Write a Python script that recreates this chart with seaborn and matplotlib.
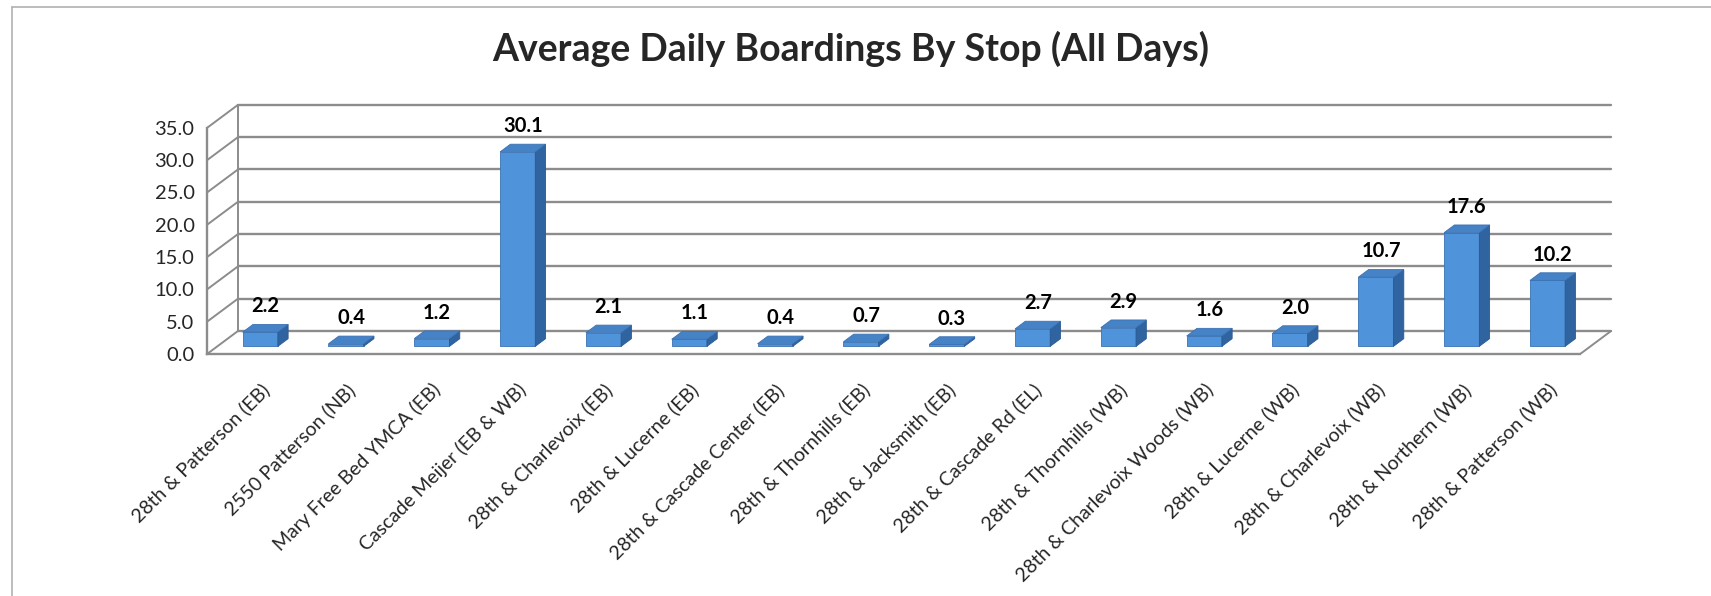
import matplotlib
matplotlib.use("Agg")
import matplotlib.pyplot as plt
import matplotlib.transforms as mtransforms
import seaborn as sns
from matplotlib.patches import Polygon
from matplotlib.lines import Line2D

# data
stops = ["28th & Patterson (EB)", "2550 Patterson (NB)", "Mary Free Bed YMCA (EB)",
         "Cascade Meijer (EB & WB)", "28th & Charlevoix (EB)", "28th & Lucerne (EB)",
         "28th & Cascade Center (EB)", "28th & Thornhills (EB)", "28th & Jacksmith (EB)",
         "28th & Cascade Rd (EL)", "28th & Thornhills (WB)", "28th & Charlevoix Woods (WB)",
         "28th & Lucerne (WB)", "28th & Charlevoix (WB)", "28th & Northern (WB)",
         "28th & Patterson (WB)"]
boardings = [2.2, 0.4, 1.2, 30.1, 2.1, 1.1, 0.4, 0.7, 0.3, 2.7, 2.9, 1.6, 2.0, 10.7, 17.6, 10.2]
y_ticks = [0, 5, 10, 15, 20, 25, 30, 35]

sns.set_style("white")
plt.rcParams['font.family'] = ['Lato', 'DejaVu Sans']

# fake 3D depth of the plot box, in data units
ddx, ddy = 0.36, 3.56
grid_col = "#8c8c8c"
front_col = "#4f93da"
side_col = "#2f64a0"
top_col = "#4682c6"

fig = plt.figure(figsize=(17.11, 5.96), dpi=100)
ax = fig.add_axes([0.121, 0.406, 0.8276, 0.4228])

sns.barplot(x=stops, y=boardings, color=front_col, saturation=1, width=0.41, ax=ax)

ax.set_xlim(-0.5, 16)
ax.set_ylim(0, 39)
n = len(stops)

# back wall gridlines and diagonals from the front axis
for k in y_ticks:
    ax.plot([-0.5 + ddx, n - 0.5 + ddx], [k + ddy, k + ddy], color=grid_col, lw=1.7, zorder=1)
    ax.plot([-0.5, -0.5 + ddx], [k, k + ddy], color=grid_col, lw=1.4, zorder=1)
ax.plot([-0.5 + ddx, -0.5 + ddx], [ddy, y_ticks[-1] + ddy], color=grid_col, lw=1.4, zorder=1)
ax.plot([n - 0.5, n - 0.5 + ddx], [0, ddy], color=grid_col, lw=1.4, zorder=1)

# move the bars into the middle of the depth and add side/top faces
bx, by = ddx / 3, ddy / 3
for p, v in zip(ax.patches, boardings):
    p.set_x(p.get_x() + bx)
    p.set_y(by)
    p.set_edgecolor("#3b72b4")
    p.set_linewidth(0.6)
    p.set_zorder(3)
    xl, xr = p.get_x(), p.get_x() + p.get_width()
    top = by + v
    ax.add_patch(Polygon([(xr, by), (xr + bx, by + by), (xr + bx, top + by), (xr, top)],
                         closed=True, facecolor=side_col, edgecolor="#2b5a92", lw=0.6, zorder=3))
    ax.add_patch(Polygon([(xl, top), (xr, top), (xr + bx, top + by), (xl + bx, top + by)],
                         closed=True, facecolor=top_col, edgecolor="#3b72b4", lw=0.6, zorder=3))
    ax.text((xl + xr) / 2 + bx / 2, top + 4.0, f"{v:.1f}", ha="center", va="center",
            fontsize=14.5, fontweight="bold", color="black", zorder=4)

# front axes
for s in ["top", "right"]:
    ax.spines[s].set_visible(False)
for s in ["left", "bottom"]:
    ax.spines[s].set_color(grid_col)
    ax.spines[s].set_linewidth(1.7)
ax.spines["left"].set_bounds(0, 35)
ax.spines["bottom"].set_bounds(-0.5, n - 0.5)

ax.set_yticks(y_ticks)
ax.set_yticklabels([f"{t:.1f}" for t in y_ticks], fontsize=14.5)
ax.tick_params(axis="y", length=5, width=1.2, color=grid_col, pad=4)

ax.set_xticks(range(n))
ax.set_xticklabels(stops, rotation=45, ha="right", rotation_mode="anchor", fontsize=14)
ax.set_xticks([i - 0.5 for i in range(n + 1)], minor=True)
ax.tick_params(axis="x", which="major", length=0, pad=22)
ax.tick_params(axis="x", which="minor", length=6, width=1.2, color=grid_col)
ax.set_xlabel("")
ax.set_ylabel("")
shift = mtransforms.ScaledTranslation(10 / 100, 4 / 100, fig.dpi_scale_trans)
for lab in ax.get_xticklabels():
    lab.set_transform(lab.get_transform() + shift)

fig.text(0.497, 0.918, "Average Daily Boardings By Stop (All Days)", ha="center", va="center",
         fontsize=27, fontweight="bold")

# chart area border (left and top edges visible)
fig.add_artist(Line2D([12 / 1711, 12 / 1711], [0, 1 - 7 / 596], color="#b0b0b0", lw=1.2))
fig.add_artist(Line2D([12 / 1711, 1], [1 - 7 / 596, 1 - 7 / 596], color="#b0b0b0", lw=1.2))

fig.savefig("out.png", dpi=100)
